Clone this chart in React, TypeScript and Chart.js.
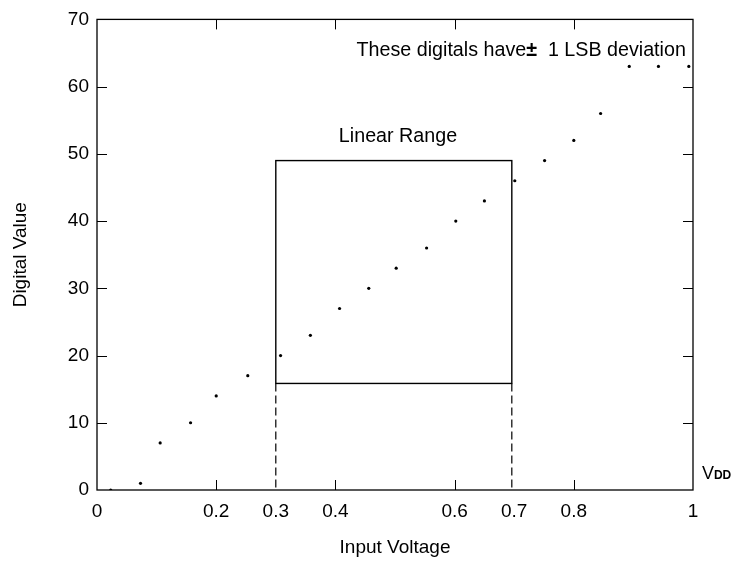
import { useEffect, useRef } from "react";
import { Chart, registerables } from "chart.js";

Chart.register(...registerables);

// ---- data ----
const inputVoltage = [0.023, 0.073, 0.106, 0.157, 0.2, 0.253, 0.308, 0.358, 0.407, 0.456, 0.502, 0.553, 0.602, 0.65, 0.701, 0.751, 0.8, 0.845, 0.893, 0.942, 0.993];
const digitalValue = [0, 1, 7, 10, 14, 17, 20, 23, 27, 30, 33, 36, 40, 43, 46, 49, 52, 56, 63, 63, 63];
const xTickLabels = [0, 0.2, 0.3, 0.4, 0.6, 0.7, 0.8, 1];
const xTickMarks = [0.2, 0.4, 0.6, 0.8];
const yTickMarks = [10, 20, 30, 40, 50, 60];
const linearRangeX = [0.3, 0.696];
const linearRangeY = [15.85, 49];

const FONT = "'Liberation Sans', Arial, Helvetica, sans-serif";

const framePlugin = {
  id: "frameAndNotes",
  afterDraw(chart: any) {
    const { ctx, chartArea, scales } = chart;
    const xs = scales.x;
    const ys = scales.y;
    const { left, right, top, bottom } = chartArea;
    ctx.save();
    ctx.strokeStyle = "#000";
    ctx.fillStyle = "#000";

    // frame
    ctx.lineWidth = 1.3;
    ctx.strokeRect(left, top, right - left, bottom - top);

    // inward tick marks
    ctx.lineWidth = 1;
    const tl = 10;
    ctx.beginPath();
    for (const v of xTickMarks) {
      const px = Math.round(xs.getPixelForValue(v)) + 0.5;
      ctx.moveTo(px, bottom);
      ctx.lineTo(px, bottom - tl);
      ctx.moveTo(px, top);
      ctx.lineTo(px, top + tl);
    }
    for (const v of yTickMarks) {
      const py = Math.round(ys.getPixelForValue(v)) + 0.5;
      ctx.moveTo(left, py);
      ctx.lineTo(left + tl, py);
      ctx.moveTo(right, py);
      ctx.lineTo(right - tl, py);
    }
    ctx.stroke();

    // linear range box
    const bx0 = xs.getPixelForValue(linearRangeX[0]);
    const bx1 = xs.getPixelForValue(linearRangeX[1]);
    const by0 = ys.getPixelForValue(linearRangeY[0]);
    const by1 = ys.getPixelForValue(linearRangeY[1]);
    ctx.lineWidth = 1.4;
    ctx.strokeRect(bx0, by1, bx1 - bx0, by0 - by1);

    // dashed drop lines
    ctx.lineWidth = 1.2;
    ctx.setLineDash([8, 4]);
    ctx.beginPath();
    ctx.moveTo(bx0, by0);
    ctx.lineTo(bx0, bottom);
    ctx.moveTo(bx1, by0);
    ctx.lineTo(bx1, bottom);
    ctx.stroke();
    ctx.setLineDash([]);

    // texts
    ctx.textBaseline = "alphabetic";
    const noteFont = `19.7px ${FONT}`;
    const noteBold = `bold 19.7px ${FONT}`;
    ctx.font = noteFont;
    ctx.textAlign = "center";
    ctx.fillText("Linear Range", xs.getPixelForValue(0.505), ys.getPixelForValue(51.75));

    ctx.textAlign = "left";
    const parts: [string, string][] = [
      ["These digitals have", noteFont],
      ["\u00B1", noteBold],
      ["  1 LSB deviation", noteFont],
    ];
    let total = 0;
    for (const [t, f] of parts) {
      ctx.font = f;
      total += ctx.measureText(t).width;
    }
    let tx = xs.getPixelForValue(0.988) - total;
    const ty = ys.getPixelForValue(64.6);
    for (const [t, f] of parts) {
      ctx.font = f;
      ctx.fillText(t, tx, ty);
      tx += ctx.measureText(t).width;
    }

    // V_DD
    const vx = xs.getPixelForValue(1.015);
    const vy = ys.getPixelForValue(1.68);
    ctx.font = `18px ${FONT}`;
    ctx.fillText("V", vx, vy);
    const vw = ctx.measureText("V").width;
    ctx.font = `bold 12px ${FONT}`;
    ctx.fillText("DD", vx + vw, vy);

    ctx.restore();
  },
};

export default function App() {
  const canvasRef = useRef<HTMLCanvasElement | null>(null);

  useEffect(() => {
    document.body.style.margin = "0";
    const canvas = canvasRef.current;
    if (!canvas) return;
    Chart.defaults.font.family = FONT;
    const chart = new Chart(canvas, {
      type: "scatter",
      data: {
        datasets: [
          {
            data: inputVoltage.map((x, i) => ({ x, y: digitalValue[i] })),
            backgroundColor: "#000",
            borderColor: "#000",
            pointRadius: 1.6,
            borderWidth: 0,
          },
        ],
      },
      options: {
        animation: false,
        responsive: true,
        maintainAspectRatio: false,
        layout: { padding: { left: 0, right: 41, top: 19, bottom: 0 } },
        plugins: {
          legend: { display: false },
          tooltip: { enabled: false },
        },
        scales: {
          x: {
            type: "linear",
            min: 0,
            max: 1,
            grid: { display: false, drawTicks: false },
            border: { display: false },
            ticks: {
              stepSize: 0.1,
              padding: 10,
              color: "#000",
              font: { size: 19 },
              maxRotation: 0,
              autoSkip: false,
              callback: (v: any) => {
                const n = Number(v);
                const hit = xTickLabels.find((t) => Math.abs(t - n) < 1e-6);
                return hit === undefined ? "" : String(hit);
              },
            },
            title: {
              display: true,
              text: "Input Voltage",
              color: "#000",
              font: { size: 19 },
              padding: { top: 0, bottom: 5 },
            },
            afterFit: (s: any) => {
              s.height = 74;
            },
          },
          y: {
            type: "linear",
            min: 0,
            max: 70,
            grid: { display: false, drawTicks: false },
            border: { display: false },
            ticks: {
              stepSize: 10,
              padding: 8,
              color: "#000",
              font: { size: 19 },
            },
            title: {
              display: true,
              text: "Digital Value",
              color: "#000",
              font: { size: 19 },
              padding: { top: 9, bottom: 0 },
            },
            afterFit: (s: any) => {
              s.width = 97;
            },
          },
        },
      },
      plugins: [framePlugin],
    });
    return () => chart.destroy();
  }, []);

  return (
    <div style={{ position: "absolute", left: 0, top: 0, width: 734, height: 564 }}>
      <canvas ref={canvasRef} />
    </div>
  );
}
